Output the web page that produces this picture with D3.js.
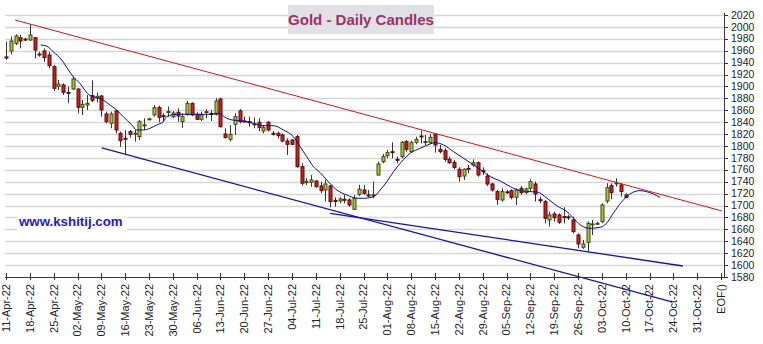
<!DOCTYPE html>
<html><head><meta charset="utf-8">
<script src="https://cdn.jsdelivr.net/npm/d3@7"></script>
<style>
html,body{margin:0;padding:0;background:#fff;}
svg{display:block;font-family:"Liberation Sans",Arial,sans-serif;}
</style></head>
<body>
<svg id="c" width="763" height="344"></svg>
<script>
// ---- data (trading-day index 0 = 11-Apr-22) ----
const openP = [1949.5,1959.6,1972.4,1981.9,1979.6,1978.0,1982.0,1954.5,1959.6,1952.8,
1933.2,1900.2,1902.5,1890.1,1895.7,1895.7,1865.0,1868.9,1884.6,1880.7,
1884.0,1853.8,1838.1,1858.8,1821.3,1812.9,1824.1,1821.2,1815.7,1835.3,
1845.4,1852.1,1864.4,1851.0,1857.7,1849.3,1856.6,1840.9,1853.2,1871.7,
1853.2,1844.8,1857.7,1854.9,1853.2,1878.9,1820.2,1811.2,1836.4,1858.8,
1842.0,1840.9,1837.0,1839.8,1825.2,1839.8,1821.3,1821.3,1818.5,1808.4,
1810.1,1815.7,1765.3,1740.1,1739.0,1741.2,1732.9,1726.1,1732.9,1708.5,
1707.7,1710.5,1709.4,1693.7,1718.9,1726.1,1717.8,1717.6,1751.3,1773.7,
1783.8,1790.5,1777.6,1782.1,1807.3,1790.5,1806.2,1816.8,1807.3,1805.6,
1819.6,1794.4,1792.2,1777.6,1772.6,1760.8,1749.6,1762.5,1768.1,1772.0,
1758.6,1749.6,1736.2,1723.3,1709.4,1723.0,1725.0,1713.8,1729.0,1721.7,
1729.0,1736.2,1709.9,1706.6,1675.8,1685.9,1684.2,1681.4,1681.0,1675.8,
1650.6,1629.9,1637.7,1668.6,1669.6,1673.0,1707.7,1733.4,1737.4,1734.6,
1717.8];
const highP = [1975.2,1983.6,1987.5,1986.4,1981.9,2004.3,1982.5,1958.4,1964.0,1958.4,
1936.0,1910.9,1905.3,1899.7,1916.5,1896.9,1877.3,1885.7,1910.3,1890.1,
1885.7,1857.7,1857.7,1860.5,1824.1,1826.9,1826.9,1826.9,1843.7,1846.5,
1847.6,1868.9,1867.8,1854.9,1866.1,1858.8,1863.3,1854.9,1875.6,1873.3,
1856.6,1857.7,1862.1,1860.5,1880.1,1881.2,1829.7,1835.3,1854.9,1862.1,
1849.3,1849.3,1848.2,1846.5,1835.3,1842.0,1825.2,1824.1,1821.3,1812.9,
1811.2,1818.5,1770.9,1745.7,1751.3,1742.9,1740.1,1743.0,1734.5,1713.8,
1713.8,1717.8,1712.2,1717.8,1734.5,1734.5,1726.1,1740.1,1773.7,1786.6,
1793.3,1806.2,1782.1,1808.4,1810.1,1809.0,1815.7,1825.8,1818.5,1820.2,
1821.3,1801.7,1796.1,1782.1,1776.5,1764.2,1762.5,1768.1,1777.6,1773.7,
1764.2,1754.1,1738.5,1726.1,1729.0,1726.2,1727.3,1729.0,1732.9,1730.1,
1744.1,1740.2,1715.0,1709.4,1689.8,1689.8,1687.0,1697.1,1684.2,1681.4,
1653.4,1642.2,1673.0,1675.8,1673.0,1703.8,1737.4,1737.4,1745.8,1737.4,
1720.6];
const lowP = [1944.4,1954.0,1969.6,1964.0,1976.3,1976.3,1947.2,1950.0,1941.6,1930.4,
1892.4,1894.1,1885.7,1871.7,1894.1,1854.9,1852.1,1860.5,1873.4,1873.4,
1849.3,1838.1,1829.7,1821.3,1798.9,1786.6,1814.0,1807.3,1810.1,1826.9,
1843.7,1849.3,1839.8,1840.9,1849.3,1846.5,1840.9,1830.8,1851.0,1850.4,
1843.7,1842.0,1846.5,1842.0,1851.0,1830.8,1812.9,1807.3,1818.5,1838.1,
1839.8,1832.5,1829.7,1825.2,1821.3,1824.1,1817.4,1812.9,1806.2,1784.9,
1801.7,1763.6,1733.4,1734.5,1731.7,1730.1,1720.5,1706.6,1697.0,1698.1,
1703.8,1703.8,1698.1,1692.6,1716.1,1717.8,1713.8,1712.2,1750.2,1770.9,
1779.3,1779.3,1770.9,1779.3,1790.5,1788.8,1802.8,1804.5,1801.7,1803.4,
1788.8,1787.7,1773.7,1769.8,1760.8,1740.1,1743.0,1754.1,1765.3,1748.5,
1751.3,1732.9,1723.3,1701.0,1706.6,1719.4,1710.5,1701.0,1717.8,1719.4,
1723.4,1706.6,1703.8,1670.2,1664.6,1673.0,1669.1,1670.2,1675.8,1653.4,
1628.2,1627.1,1622.6,1650.6,1667.4,1670.2,1703.8,1710.5,1731.8,1715.0,
1712.2];
const closeP = [1948.5,1976.3,1984.7,1976.3,1979.0,1986.4,1961.2,1954.3,1948.4,1934.9,
1896.9,1904.1,1890.1,1889.9,1912.5,1865.0,1870.0,1871.7,1876.7,1883.4,
1860.5,1840.9,1853.8,1826.9,1809.0,1812.7,1819.6,1821.4,1840.9,1835.5,
1845.6,1864.4,1848.2,1850.8,1857.9,1855.4,1850.4,1849.3,1871.7,1852.1,
1844.8,1852.1,1857.8,1854.7,1875.6,1832.5,1814.0,1819.6,1849.3,1840.9,
1841.5,1840.6,1837.1,1831.4,1830.8,1826.9,1821.2,1817.4,1808.4,1802.8,
1802.8,1765.3,1737.4,1740.3,1742.9,1731.7,1725.0,1736.2,1706.6,1707.9,
1711.0,1710.4,1701.0,1712.2,1727.3,1720.5,1717.6,1718.0,1769.8,1782.1,
1788.8,1790.3,1777.4,1806.2,1794.4,1805.6,1811.2,1816.6,1807.5,1814.6,
1801.7,1790.5,1777.6,1772.0,1764.2,1748.5,1760.8,1762.3,1772.0,1751.3,
1758.0,1736.2,1726.1,1710.5,1723.4,1722.5,1713.8,1726.2,1721.7,1727.8,
1740.2,1719.4,1709.0,1678.6,1684.2,1679.7,1671.9,1681.0,1680.0,1656.2,
1635.5,1635.5,1670.2,1669.1,1670.2,1701.0,1730.1,1721.7,1738.0,1723.4,
1713.8];

// moving average (index, value)
const maIdx = [7.3,8.5,9.9,11.7,13.1,14.1,15.5,17.3,19.0,20.4,21.8,23.2,24.6,26.4,27.4,28.8,30.2,31.6,33.0,33.7,
35.8,39.3,42.8,44.5,46.3,47.4,49.8,51.9,54.0,56.1,58.2,60.3,61.7,63.1,64.5,65.9,67.3,69.4,71.5,73.6,
75.0,77.1,78.5,79.9,81.3,83.0,84.8,86.9,89.0,90.0,91.8,93.9,96.0,98.1,99.5,101.6,103.7,105.8,107.9,110.0,
111.4,113.5,115.6,117.7,119.4,120.8,122.5,124.6,126.0,127.4,129.2,130.9,133.0,134.4,135.8,137.2];
const maVal = [1969.6,1967.9,1958.4,1944.4,1927.6,1916.4,1905.1,1886.8,1881.1,1877.3,1868.9,1860.5,1849.2,1835.3,1826.9,1826.9,1829.7,1835.3,1840.8,1849.2,
1853.2,1853.2,1853.2,1854.9,1846.5,1843.7,1842.0,1838.1,1834.1,1834.1,1826.9,1815.6,1798.8,1782.0,1765.3,1755.5,1742.9,1726.1,1717.7,1712.2,
1712.2,1714.9,1726.1,1740.1,1756.9,1773.7,1787.8,1796.2,1803.4,1805.6,1801.7,1790.4,1779.4,1768.1,1760.6,1748.5,1741.2,1731.7,1725.0,1723.3,
1722.8,1712.2,1699.3,1689.7,1675.8,1665.7,1661.8,1663.5,1670.2,1687.0,1706.5,1719.4,1725.0,1723.3,1719.4,1713.9];

// trend lines: [startIndex, startValue, endIndex, endValue]
const redTrend = [1.9, 2011.6, 150.2, 1690.9];
const blueTrendSteep = [20.1, 1796.7, 139.7, 1538.1];
const blueTrendFlat = [68.0, 1687.0, 142.0, 1598.5];

const weekLabels = ["11-Apr-22","18-Apr-22","25-Apr-22","02-May-22","09-May-22","16-May-22","23-May-22","30-May-22",
"06-Jun-22","13-Jun-22","20-Jun-22","27-Jun-22","04-Jul-22","11-Jul-22","18-Jul-22","25-Jul-22","01-Aug-22",
"08-Aug-22","15-Aug-22","22-Aug-22","29-Aug-22","05-Sep-22","12-Sep-22","19-Sep-22","26-Sep-22","03-Oct-22",
"10-Oct-22","17-Oct-22","24-Oct-22","31-Oct-22","EOF()"];
const weekIdx = [0,5,10,15,20,25,30,35,40,45,50,55,60,65,70,75,80,85,90,95,100,105,110,115,120,125,130,135,140,145,150];
const yTicks = [1580,1600,1620,1640,1660,1680,1700,1720,1740,1760,1780,1800,1820,1840,1860,1880,1900,1920,1940,1960,1980,2000,2020];

// ---- drawing ----
const svg = d3.select("#c");
const x = d3.scaleLinear().domain([0,150]).range([6,721]);
const y = d3.scaleLinear().domain([1580,2020]).range([277,15]);
const axisX = 724;

// grid
svg.append("g").selectAll("line").data(yTicks.slice(1)).join("line")
  .attr("x1",5).attr("x2",axisX).attr("y1",d=>Math.round(y(d))+0.5).attr("y2",d=>Math.round(y(d))+0.5)
  .attr("stroke","#d6d6d6").attr("stroke-width",1.3);

// title
svg.append("rect").attr("x",288).attr("y",5).attr("width",146).attr("height",29).attr("fill","#e1e0e4");
svg.append("text").attr("x",361).attr("y",25).attr("text-anchor","middle")
  .attr("font-size",15).attr("font-weight","bold").attr("fill","#993366").text("Gold - Daily Candles");

// watermark
svg.append("rect").attr("x",17).attr("y",212).attr("width",110).attr("height",20).attr("fill","#fff");
svg.append("text").attr("x",19).attr("y",225.5).attr("font-size",13.3).attr("font-weight","bold")
  .attr("fill","#1c1cc8").text("www.kshitij.com");

// candles
const idx = d3.range(openP.length);
const cg = svg.append("g");
cg.selectAll("line").data(idx).join("line")
  .attr("x1",i=>Math.round(x(i))+0.5).attr("x2",i=>Math.round(x(i))+0.5)
  .attr("y1",i=>y(highP[i])).attr("y2",i=>y(lowP[i]))
  .attr("stroke","#333").attr("stroke-width",1);
cg.selectAll("rect").data(idx).join("rect")
  .attr("x",i=>Math.round(x(i))-1)
  .attr("width",3)
  .attr("y",i=>y(Math.max(openP[i],closeP[i])))
  .attr("height",i=>Math.max(1,Math.abs(y(openP[i])-y(closeP[i]))))
  .attr("fill",i=>closeP[i]>=openP[i]?"#a9c43e":"#cc1f1f")
  .attr("stroke",i=>closeP[i]>=openP[i]?"#3d4a12":"#5a0d0d")
  .attr("stroke-width",1);

// moving average
const maPts = maIdx.map((d,k)=>[d,maVal[k]]);
svg.append("path").attr("d",d3.line().x(d=>x(d[0])).y(d=>y(d[1])).curve(d3.curveMonotoneX)(maPts))
  .attr("fill","none").attr("stroke","#0a0a8c").attr("stroke-width",1);

// trend lines
function trend(t,color,w){
  svg.append("line").attr("x1",x(t[0])).attr("y1",y(t[1])).attr("x2",x(t[2])).attr("y2",y(t[3]))
    .attr("stroke",color).attr("stroke-width",w);
}
trend(redTrend,"#cc1a1a",1);
trend(blueTrendSteep,"#1414a0",1.3);
trend(blueTrendFlat,"#1414a0",1.3);

// y axis (right)
const ya = svg.append("g");
ya.append("line").attr("x1",axisX+0.5).attr("x2",axisX+0.5).attr("y1",13).attr("y2",278).attr("stroke","#333");
ya.selectAll("line.t").data(yTicks).join("line").attr("class","t")
  .attr("x1",axisX).attr("x2",axisX+4).attr("y1",d=>Math.round(y(d))+0.5).attr("y2",d=>Math.round(y(d))+0.5).attr("stroke","#333");
ya.selectAll("text").data(yTicks).join("text")
  .attr("x",731).attr("y",d=>y(d)).attr("dy","0.35em").attr("font-size",10.5).attr("fill","#222").text(d=>d);

// x axis
const xa = svg.append("g");
xa.append("line").attr("x1",5).attr("x2",axisX+1).attr("y1",277.5).attr("y2",277.5).attr("stroke","#333");
xa.selectAll("line.t").data(weekIdx).join("line").attr("class","t")
  .attr("x1",i=>Math.round(x(i))+0.5).attr("x2",i=>Math.round(x(i))+0.5).attr("y1",273).attr("y2",280).attr("stroke","#333");
xa.selectAll("text").data(weekIdx).join("text")
  .attr("transform",i=>`translate(${x(i)},284) rotate(-90)`)
  .attr("text-anchor","end").attr("dy","0.35em").attr("font-size",11).attr("fill","#222")
  .text((i,k)=>weekLabels[k]);
</script>
</body></html>
